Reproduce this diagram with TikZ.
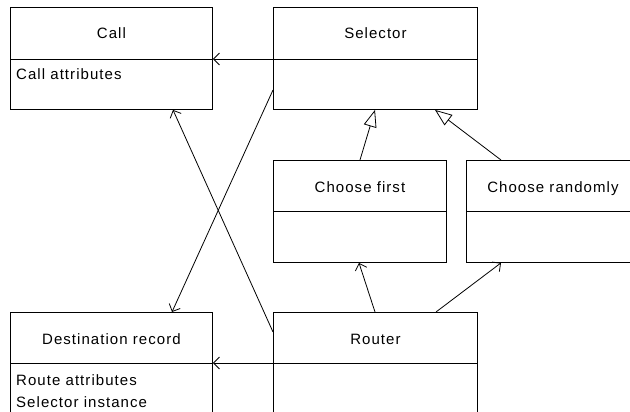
\documentclass[tikz,border=0pt]{standalone}
\usepackage{fontspec}
\setmainfont{Liberation Sans}[LetterSpace=7]
\usetikzlibrary{arrows.meta,calc}
\tikzset{
  umlbox/.style={draw=black, line width=0.9pt, rectangle, inner sep=0pt, anchor=north west, fill=white},
  title/.style={anchor=base, inner sep=0pt, font=\fontsize{15}{21}\selectfont},
  attr/.style={anchor=base west, inner sep=0pt, font=\fontsize{15}{21}\selectfont},
  divider/.style={line width=0.9pt},
  assoc/.style={line width=0.8pt, -{Straight Barb[length=6pt,width=12pt,line width=0.8pt]}},
  inherit/.style={line width=0.8pt, -{Triangle[open,length=17pt,width=13pt,line width=0.8pt]}}
}
\begin{document}
\begin{tikzpicture}[x=1pt,y=-1pt]
\useasboundingbox (0,0) rectangle (630,412);
\clip (0,0) rectangle (630,412);
\fill[white] (0,0) rectangle (630,412);

% boxes
\node[umlbox, minimum width=202pt, minimum height=102pt] (call) at (10,7) {};
\node[umlbox, minimum width=204pt, minimum height=102pt] (sel) at (273,7) {};
\node[umlbox, minimum width=173pt, minimum height=102pt] (cf) at (273,160) {};
\node[umlbox, minimum width=173pt, minimum height=102pt] (cr) at (466,160) {};
\node[umlbox, minimum width=202pt, minimum height=102pt] (dest) at (10,312) {};
\node[umlbox, minimum width=204pt, minimum height=102pt] (router) at (273,312) {};

% dividers
\foreach \b/\d in {call/52,sel/52,cf/51,cr/51,dest/51,router/51}{
  \draw[divider] ([yshift=-\d pt]\b.north west) -- ([yshift=-\d pt]\b.north east);
}

% titles
\node[title] (tcall) at ($(call.north)+(0,32)$) {Call};
\node[title] (tsel) at ($(sel.north)+(0,32)$) {Selector};
\node[title] (tcf) at ($(cf.north)+(0,32)$) {Choose first};
\node[title] (tcr) at ($(cr.north)+(0,32)$) {Choose randomly};
\node[title] (tdest) at ($(dest.north)+(0,32)$) {Destination record};
\node[title] (trouter) at ($(router.north)+(0,32)$) {Router};

% attributes
\node[attr] (acall) at (16,80) {Call attributes};
\node[attr] (adest1) at (16,385.5) {Route attributes};
\node[attr] (adest2) at (16,407.5) {Selector instance};

% associations
\draw[assoc] ([yshift=-52pt]sel.north west) -- ([yshift=-52pt]call.north east);
\draw[assoc] ([yshift=-51pt]router.north west) -- ([yshift=-51pt]dest.north east);
\draw[assoc] ([yshift=-20pt]router.north west) -- ($(call.south west)+(163,0)$);
\draw[assoc] ([yshift=-83pt]sel.north west) -- ($(dest.north west)+(162,0)$);
\draw[assoc] ($(router.north west)+(102,0)$) -- ($(cf.south west)+(86,0)$);
\draw[assoc] ($(router.north west)+(163,0)$) -- ($(cr.south west)+(35,0)$);

% generalisations
\draw[inherit] ($(cf.north west)+(87,0)$) -- ($(sel.south west)+(102,0)$);
\draw[inherit] ($(cr.north west)+(35,0)$) -- ($(sel.south west)+(162,0)$);
\end{tikzpicture}
\end{document}
